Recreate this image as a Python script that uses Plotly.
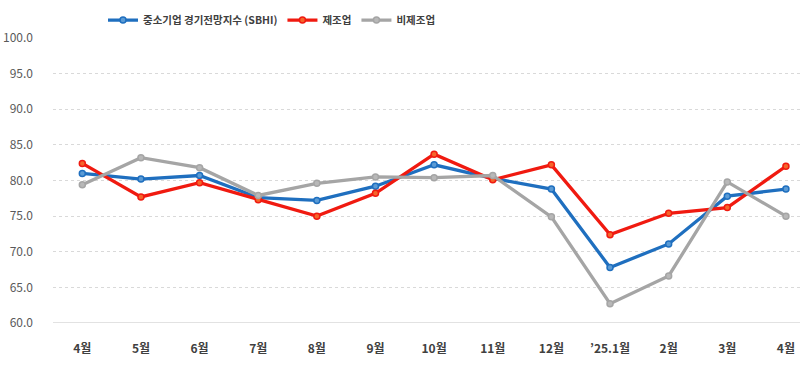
import plotly.graph_objects as go

months = ["4월", "5월", "6월", "7월", "8월", "9월", "10월", "11월", "12월", "’25.1월", "2월", "3월", "4월"]
sbhi = [81.0, 80.2, 80.7, 77.6, 77.2, 79.2, 82.2, 80.3, 78.8, 67.8, 71.1, 77.8, 78.8]
manuf = [82.4, 77.7, 79.7, 77.3, 75.0, 78.2, 83.7, 80.1, 82.2, 72.4, 75.4, 76.2, 82.0]
nonmanuf = [79.4, 83.2, 81.8, 77.9, 79.6, 80.5, 80.4, 80.7, 74.9, 62.7, 66.6, 79.8, 75.0]
y_ticks = [60, 65, 70, 75, 80, 85, 90, 95, 100]

x = list(range(len(months)))
series = [
    ("중소기업 경기전망지수 (SBHI)", sbhi, "#1F6FBF", "#5B9BD5"),
    ("제조업", manuf, "#F01A10", "#F5652A"),
    ("비제조업", nonmanuf, "#A5A5A5", "#B8B8B8"),
]

fig = go.Figure()
for name, vals, col, mcol in series:
    fig.add_trace(go.Scatter(
        x=x, y=vals, name=name, mode="lines+markers",
        line=dict(color=col, width=3.3),
        marker=dict(size=6, color=mcol, line=dict(color=col, width=1.5)),
    ))

fig.update_layout(
    width=800, height=374,
    margin=dict(l=53, r=0, t=38, b=51, autoexpand=False),
    paper_bgcolor="white", plot_bgcolor="white",
    font=dict(family="Noto Sans CJK KR", color="#595959"),
    showlegend=True,
    legend=dict(orientation="h", xref="container", x=0.34, xanchor="center",
                yref="container", y=0.985, yanchor="top",
                font=dict(size=10.5, color="#404040", weight="bold"), itemwidth=30,
                tracegroupgap=0, bgcolor="rgba(0,0,0,0)"),
    xaxis=dict(
        tickmode="array", tickvals=x, ticktext=months,
        range=[-0.5, 12.24], showgrid=False, zeroline=False,
        showline=False, ticks="", automargin=False,
        tickfont=dict(size=12, color="#404040", family="Noto Sans CJK KR", weight="bold"),
        ticklabelstandoff=17,
    ),
    yaxis=dict(
        range=[60, 100], tickmode="array", tickvals=y_ticks,
        ticktext=[f"{v:.1f}" for v in y_ticks],
        showgrid=True, gridcolor="#D9D9D9", griddash="dot", gridwidth=1,
        zeroline=False, showline=False, ticks="", automargin=False,
        tickfont=dict(size=12, color="#595959"),
        ticklabelstandoff=19,
    ),
)
fig.add_shape(type="line", xref="paper", yref="y", x0=0, x1=1, y0=60, y1=60,
              line=dict(color="#D9D9D9", width=1.5), layer="below")
fig.write_html("out.html", config={"displayModeBar": False},
               post_script="document.body.style.margin='0';")
